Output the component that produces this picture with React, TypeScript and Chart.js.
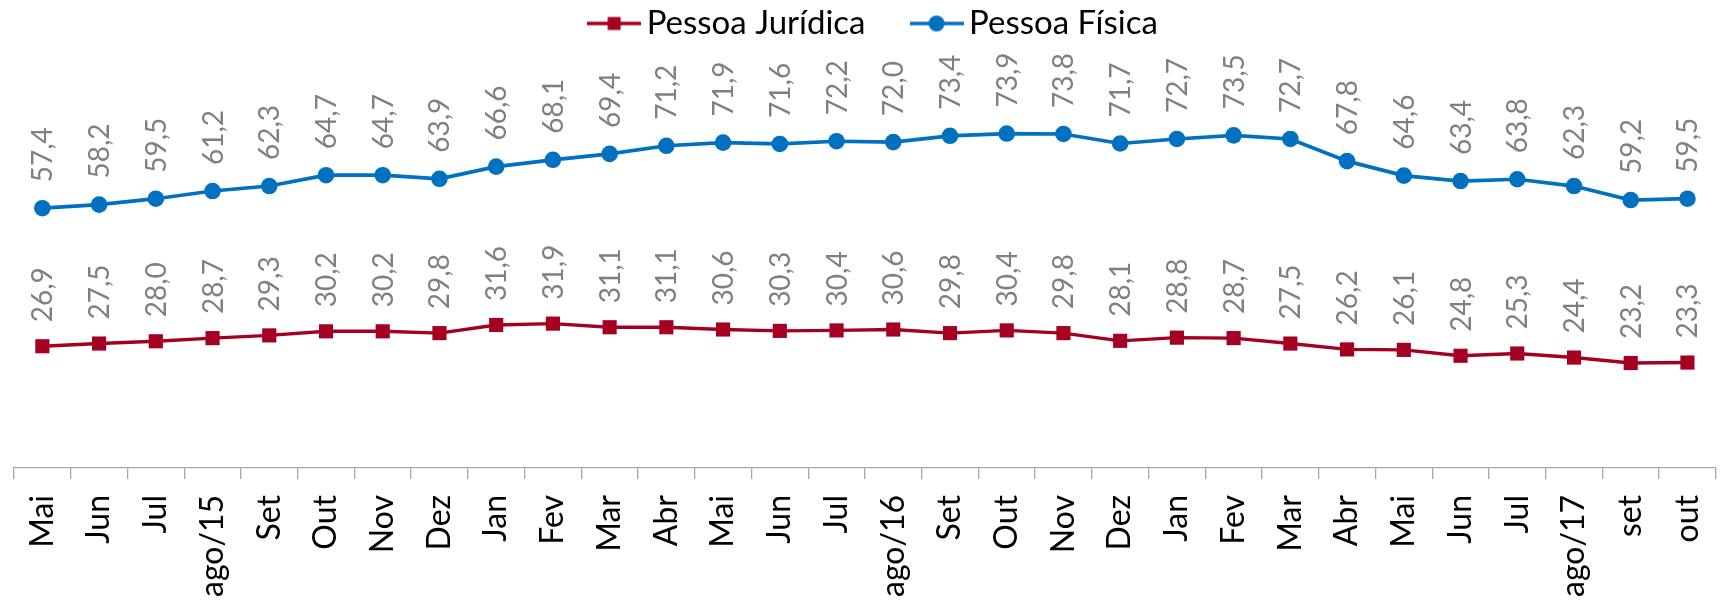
import React, { useEffect, useRef } from 'react';
import { Chart, registerables } from 'chart.js';

Chart.register(...registerables);

const categories = [
  'Mai', 'Jun', 'Jul', 'ago/15', 'Set', 'Out', 'Nov', 'Dez', 'Jan', 'Fev',
  'Mar', 'Abr', 'Mai', 'Jun', 'Jul', 'ago/16', 'Set', 'Out', 'Nov', 'Dez',
  'Jan', 'Fev', 'Mar', 'Abr', 'Mai', 'Jun', 'Jul', 'ago/17', 'set', 'out',
];

const pessoaJuridica = [
  26.9, 27.5, 28.0, 28.7, 29.3, 30.2, 30.2, 29.8, 31.6, 31.9,
  31.1, 31.1, 30.6, 30.3, 30.4, 30.6, 29.8, 30.4, 29.8, 28.1,
  28.8, 28.7, 27.5, 26.2, 26.1, 24.8, 25.3, 24.4, 23.2, 23.3,
];

const pessoaFisica = [
  57.4, 58.2, 59.5, 61.2, 62.3, 64.7, 64.7, 63.9, 66.6, 68.1,
  69.4, 71.2, 71.9, 71.6, 72.2, 72.0, 73.4, 73.9, 73.8, 71.7,
  72.7, 73.5, 72.7, 67.8, 64.6, 63.4, 63.8, 62.3, 59.2, 59.5,
];

const seriesNames = ['Pessoa Jurídica', 'Pessoa Física'];
const seriesColors = ['#A50021', '#0070C0'];

const Y_MIN = 0;
const Y_MAX = 92.8;

const FONT = 'Lato, Calibri, Carlito, sans-serif';

const fmt = (v: number) => v.toFixed(1).replace('.', ',');

function makeLegendIcon(color: string, style: 'rect' | 'circle') {
  const c = document.createElement('canvas');
  c.width = 54;
  c.height = 18;
  const ctx = c.getContext('2d')!;
  ctx.strokeStyle = color;
  ctx.lineWidth = 3.3;
  ctx.beginPath();
  ctx.moveTo(0, 9);
  ctx.lineTo(54, 9);
  ctx.stroke();
  ctx.fillStyle = color;
  if (style === 'rect') {
    ctx.fillRect(20.5, 2.5, 13, 13);
  } else {
    ctx.beginPath();
    ctx.arc(27, 9, 8, 0, Math.PI * 2);
    ctx.fill();
  }
  return c;
}

const valueLabelPlugin = {
  id: 'valueLabels',
  afterDatasetsDraw(chart: any) {
    const ctx = chart.ctx;
    chart.data.datasets.forEach((ds: any, di: number) => {
      const meta = chart.getDatasetMeta(di);
      const gap = di === 0 ? 24 : 26;
      meta.data.forEach((pt: any, i: number) => {
        const v = ds.data[i] as number;
        ctx.save();
        ctx.translate(pt.x, pt.y - gap);
        ctx.rotate(-Math.PI / 2);
        ctx.font = `28px ${FONT}`;
        ctx.fillStyle = '#808080';
        ctx.textAlign = 'left';
        ctx.textBaseline = 'alphabetic';
        ctx.fillText(fmt(v), 0, 10);
        ctx.restore();
      });
    });
  },
};

export default function App() {
  const ref = useRef<HTMLCanvasElement>(null);

  useEffect(() => {
    if (!ref.current) return;
    const icons = [
      makeLegendIcon(seriesColors[0], 'rect'),
      makeLegendIcon(seriesColors[1], 'circle'),
    ];
    const chart = new Chart(ref.current, {
      type: 'line',
      data: {
        labels: categories,
        datasets: [
          {
            label: seriesNames[0],
            data: pessoaJuridica,
            borderColor: seriesColors[0],
            backgroundColor: seriesColors[0],
            pointBackgroundColor: seriesColors[0],
            pointBorderWidth: 0,
            borderWidth: 3.4,
            pointStyle: 'rect',
            pointRadius: 10,
            pointHoverRadius: 10,
            tension: 0,
            clip: false,
          },
          {
            label: seriesNames[1],
            data: pessoaFisica,
            borderColor: seriesColors[1],
            backgroundColor: seriesColors[1],
            pointBackgroundColor: seriesColors[1],
            pointBorderWidth: 0,
            borderWidth: 3.7,
            pointStyle: 'circle',
            pointRadius: 8.3,
            pointHoverRadius: 8.3,
            tension: 0,
            clip: false,
          },
        ],
      },
      options: {
        animation: false,
        responsive: false,
        maintainAspectRatio: false,
        events: [],
        layout: { padding: { top: -48, left: 14, right: 0, bottom: 0 } },
        plugins: {
          tooltip: { enabled: false },
          legend: {
            position: 'top',
            maxHeight: 96,
            labels: {
              usePointStyle: true,
              pointStyleWidth: 32,
              padding: 55,
              color: '#000000',
              font: { size: 33, family: FONT },
              generateLabels: (c: any) =>
                Chart.defaults.plugins.legend.labels
                  .generateLabels(c)
                  .map((l: any, i: number) => ({ ...l, pointStyle: icons[i] })),
            },
          },
        },
        scales: {
          x: {
            offset: true,
            grid: {
              drawOnChartArea: false,
              offset: true,
              tickLength: 11,
              color: '#A6A6A6',
              lineWidth: 1.3,
            },
            border: { color: '#A6A6A6', width: 1.3 },
            ticks: {
              autoSkip: false,
              maxRotation: 90,
              minRotation: 90,
              padding: 16,
              color: '#000000',
              font: { size: 32, family: FONT },
            },
            afterFit: (s: any) => {
              s.height = 132;
            },
          },
          y: { display: false, min: Y_MIN, max: Y_MAX },
        },
      },
      plugins: [valueLabelPlugin],
    } as any);
    return () => chart.destroy();
  }, []);

  return (
    <div
      style={{
        position: 'absolute',
        left: 0,
        top: 0,
        width: 1736,
        height: 600,
        overflow: 'hidden',
        background: '#fff',
      }}
    >
      <canvas
        ref={ref}
        width={1742}
        height={600}
        style={{ display: 'block', width: 1742, height: 600 }}
      />
    </div>
  );
}
